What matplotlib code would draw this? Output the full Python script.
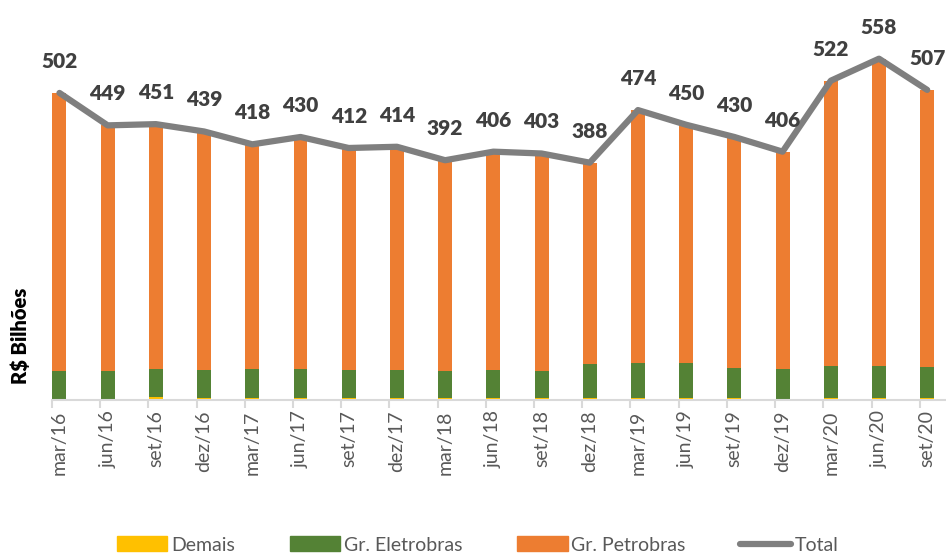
import numpy as np
import matplotlib
matplotlib.use("Agg")
import matplotlib.pyplot as plt
from matplotlib.patches import Patch
from matplotlib.lines import Line2D

plt.rcParams['font.family'] = ['Lato', 'DejaVu Sans']

# data (R$ bilhões)
periods = ['mar/16', 'jun/16', 'set/16', 'dez/16', 'mar/17', 'jun/17', 'set/17', 'dez/17',
           'mar/18', 'jun/18', 'set/18', 'dez/18', 'mar/19', 'jun/19', 'set/19', 'dez/19',
           'mar/20', 'jun/20', 'set/20']
total = [502, 449, 451, 439, 418, 430, 412, 414, 392, 406, 403, 388, 474, 450, 430, 406, 522, 558, 507]
eletrobras = [46, 46, 45, 46, 47, 48, 46, 46, 44, 46, 44, 56, 57, 58, 50, 49, 52, 52, 51]
demais = [2, 2, 5, 3, 3, 3, 3, 3, 3, 3, 3, 3, 3, 3, 3, 2, 3, 3, 3]
petrobras = [t - e - d for t, e, d in zip(total, eletrobras, demais)]

c_dem = '#FFC000'
c_ele = '#548235'
c_pet = '#ED7D31'
c_tot = '#7F7F7F'
txt = '#595959'

x = np.arange(len(periods))
w = 0.29

fig = plt.figure(figsize=(9.46, 5.56), dpi=100)
ax = fig.add_axes([52/946, 156/556, 1 - 52/946, 367/556])

ax.bar(x, demais, w, color=c_dem, zorder=2)
ax.bar(x, eletrobras, w, bottom=demais, color=c_ele, zorder=2)
bot2 = [d + e for d, e in zip(demais, eletrobras)]
ax.bar(x, petrobras, w, bottom=bot2, color=c_pet, zorder=2)
ax.plot(x, total, color=c_tot, lw=4.5, solid_capstyle='round', solid_joinstyle='round', zorder=3)

for xi, t in zip(x, total):
    ax.annotate(str(t), (xi, t), xytext=(0, 18), textcoords='offset points',
                ha='center', va='baseline', fontsize=15, fontweight='heavy',
                color='#404040', clip_on=False)

ax.set_xlim(-0.155, 18.39)
ax.set_ylim(0, 600)
ax.set_yticks([])
for s in ['top', 'right', 'left']:
    ax.spines[s].set_visible(False)
ax.spines['bottom'].set_color('#D9D9D9')
ax.spines['bottom'].set_linewidth(1.5)

ax.set_xticks(x - 0.155)
ax.set_xticklabels([])
ax.tick_params(axis='x', length=6, width=1.5, color='#D9D9D9')
for xi, p in zip(x, periods):
    ax.text(xi, -17, p, rotation=90, ha='center', va='top', fontsize=14, color=txt)

fig.text(20/946, 1 - 336/556, 'R$ Bilhões', rotation=90, ha='center', va='center',
         fontsize=14.5, fontweight='heavy', color='black')

handles = [Patch(color=c_dem), Patch(color=c_ele), Patch(color=c_pet),
           Line2D([0], [0], color=c_tot, lw=4.5, solid_capstyle='round')]
labels = ['Demais', 'Gr. Eletrobras', 'Gr. Petrobras', 'Total']
fig.legend(handles, labels, loc='center', bbox_to_anchor=(0.505, 1 - 545/556), ncol=4,
           frameon=False, fontsize=14, labelcolor=txt, handlelength=2.6, handleheight=0.8,
           handletextpad=0.2, columnspacing=2.8)

fig.savefig('out.png', dpi=100)
